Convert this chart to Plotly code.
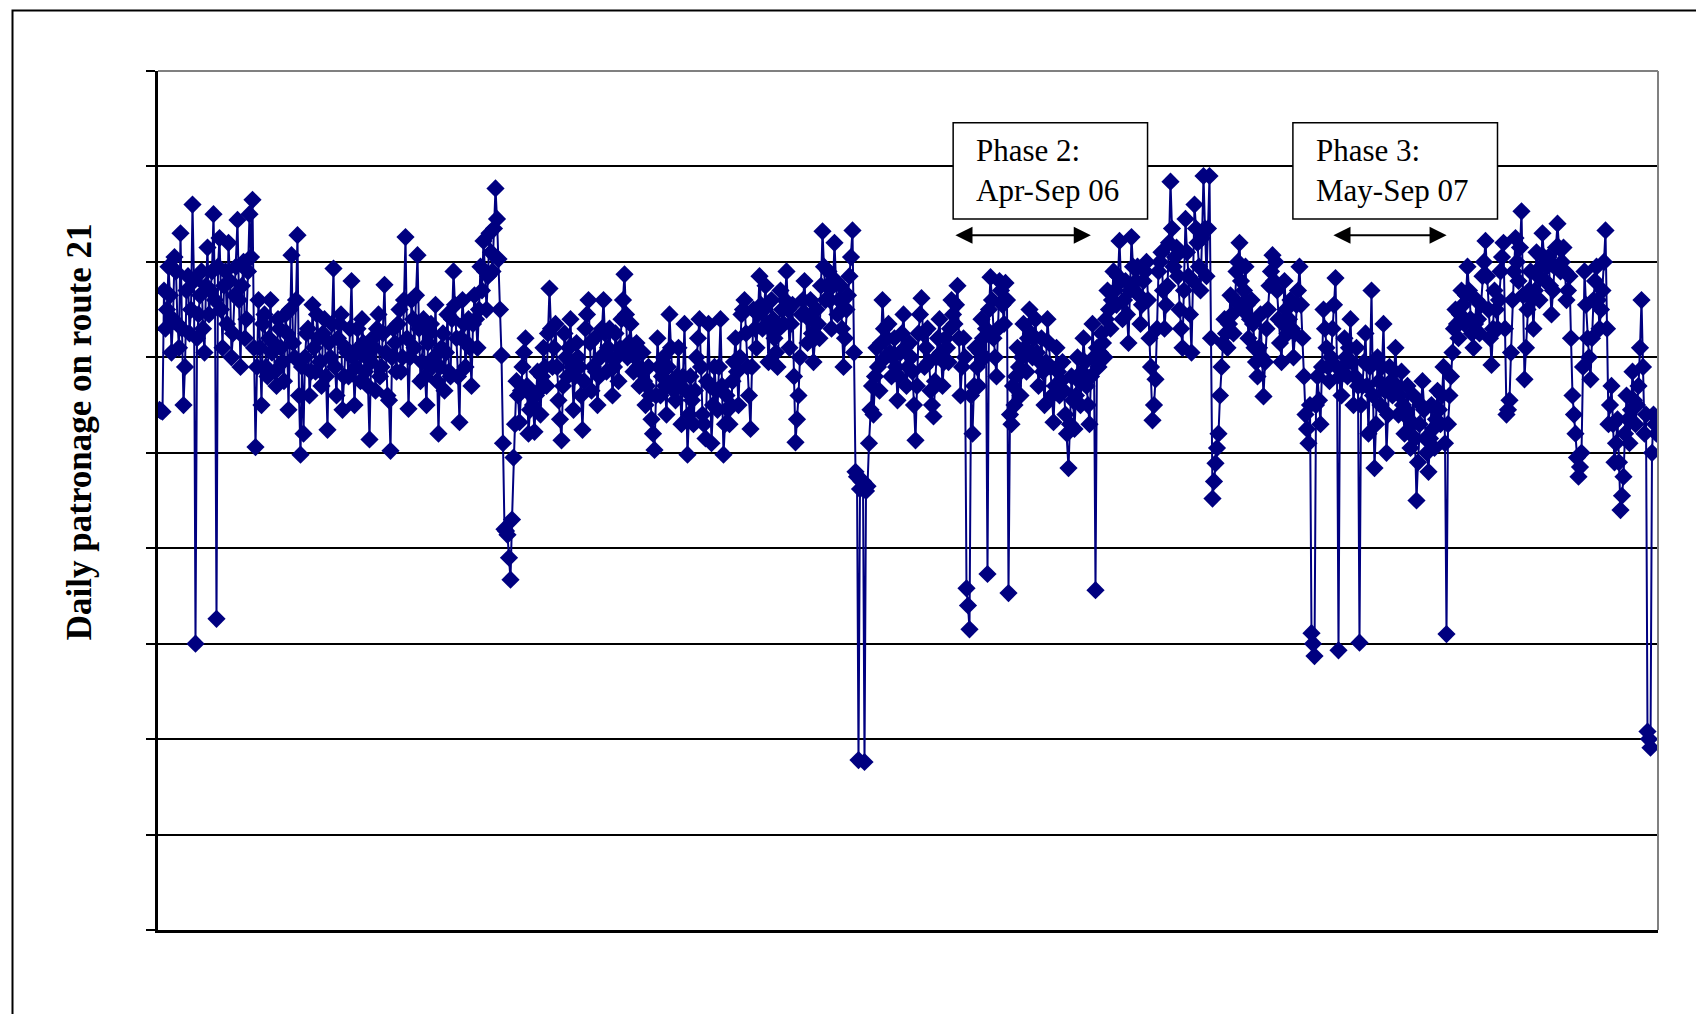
import plotly.graph_objects as go

# Daily patronage on route 21 (y axis 0-9000, tick labels not shown)
# Main daily readings, grouped by stretch of the record
seg01 = [5450, 5430, 6300, 6950, 6050, 7050, 6350, 7300, 5500, 6700, 6250, 7600, 3000, 6450, 6900, 6050,
         7150, 6700, 7500, 3260, 7250, 6100, 6900, 7200, 6000, 6650, 7440, 5900, 7000, 6400, 7500, 7650, 5060]
seg02 = [6600, 5500, 6450, 5800, 6600, 6150, 5700, 6300, 5950, 6450, 5450, 7070, 6000, 7280, 4980, 5200,
         6250, 5600, 6550, 5850, 6200, 5700, 6400, 5240, 6000, 6930, 5600, 6350, 5450, 6100, 5800, 6800,
         5500, 6300, 5750, 6150]
seg03 = [6000, 5140, 6200, 5650, 6450, 5900, 6760, 5600, 5020, 6300, 5850, 6500, 6000, 7260, 5460, 6600,
         6100, 7070, 5750, 6400, 5500, 6250, 5900, 6550, 5200, 6100, 5650, 6450, 5800, 6900, 6200, 5320,
         6600, 5900]
seg04 = [6400, 5700, 6650, 6100, 6950, 7220, 6500, 7300, 6900, 7770, 7030, 6020, 4200, 4140, 3670, 4950, 5750]
seg05 = [5320, 5900, 6200, 5200, 5600, 5220, 5850, 5400, 6100, 5700, 6720, 5900, 6350, 5550, 5130, 6250,
         5800, 6400, 5450, 6150, 5900, 5240, 6300, 6600, 5650, 6200, 5500, 6000, 6600, 5850, 6300]
seg06 = [5600, 6250, 5750, 6400, 6870, 6000, 6350, 5850, 6150, 5700, 6050, 5500, 5900, 5350, 5030, 6200,
         5600, 6000, 5400, 6450, 5750, 5550, 6100, 5300, 6350, 4980, 5800, 5300, 6000, 6400, 5400, 5150,
         6350, 5100, 5900, 5450, 6400, 4980, 5600, 5300]
seg07 = [5750, 6200, 5500, 6450, 6600, 5900, 5250, 6500, 6100, 6850, 6300, 6750, 5950, 6600, 6200]
seg08 = [5900, 6700, 6350, 6900, 6100, 6550, 5110, 5600, 6450, 6800, 6150, 6600, 5950, 6500, 6200, 7320,
         6600, 6900, 6300, 7200, 6450, 6750, 5900, 6500, 6850, 7330, 4800, 1780, 4700, 1760, 4650]
seg09 = [5450, 5400, 6100, 5650, 6600, 6000, 6350, 5800, 6200, 5550, 6050, 6450, 5700, 6150, 5850, 5130,
         6250, 6620, 5900, 6300, 5650, 5380, 6000, 6400, 5700, 6200, 5950, 6600, 6350, 6750, 5600, 6200]
seg10 = [3580, 3150, 5200, 6100, 5700, 6400, 6000, 3730, 6840, 6200, 5800, 6800, 6550, 6780, 3530, 5300,
         5500, 6100, 5600, 6350, 5850, 6500]
seg11 = [6000, 6400, 5700, 6200, 5500, 6400, 5900, 5320, 6100, 5600, 5950, 5400, 4840, 5800, 5250, 6000,
         5500, 6200, 5700, 5300, 6350, 3560, 5900, 6250, 6000]
seg12 = [6700, 6300, 6900, 6550, 7220, 6400, 6800, 6150, 7260, 6700, 6950, 6350, 6800, 7000, 6200, 5340,
         5770, 6900, 7100, 6300, 6750, 7840, 6950, 7150, 6500, 6100, 7450, 6850, 6050, 7600, 7200, 6700,
         7900, 6850, 7900, 4520, 4890, 5200]
seg13 = [5900, 6400, 6100, 6650, 6250, 6900, 7200, 6500, 6950, 6200, 6600, 6100, 5800, 6450, 5590, 6300,
         6750, 7070, 7000, 6400, 5950, 6800, 6250, 6600, 6000, 6550, 6950, 6200, 5400, 5100]
seg14 = [3110, 2870, 5800, 5300, 6500, 6100, 5750, 6300, 6830, 2930, 5600, 6200, 5800, 6400, 5500, 6100,
         3010, 5700, 6250, 5200, 6700, 4840, 6000, 5500, 6350, 5000, 5900, 5600, 6100]
seg15 = [5400, 5850, 5200, 5700, 5050, 5600, 4500, 5300, 5750, 5150, 4800, 5500, 5050, 5650, 5300, 5900,
         3100, 5600]
seg16 = [6050, 6500, 6200, 6700, 6350, 6950, 6400, 6100, 6600, 6250, 6850, 7220, 6500, 5920, 6700, 6300,
         6900, 7200, 5400, 5550, 6600, 7250, 6800, 7530, 5770, 6500, 6900, 6300, 7100, 6600, 7300, 6800,
         7050, 6450, 6950, 7400, 6900, 7150, 6600, 6850]
seg17 = [5600, 5200, 4750, 5000, 6900, 6200, 5770, 6600, 6950, 6300, 6700, 7330, 5300, 5700, 4900, 5350,
         4400, 4750, 5600, 5100, 5850, 5300, 5700, 6600, 5200, 2080, 1910, 5400, 5200]

# In-between daily readings (each falls between two consecutive readings above)
mid01 = [5440, 6700, 6500, 6650, 6400, 6900, 6100, 6300, 5900, 6850, 6500, 6800, 6200, 6650, 6300, 6750,
         6450, 6900, 6600, 6950, 6500, 6750, 6350, 6800, 6250, 6950, 6600, 6750, 6200, 6900, 7050, 6100, 5900]
mid02 = [6100, 6350, 5900, 6200, 6050, 5850, 6400, 6100, 5750, 6250, 6500, 6150, 6600, 5600, 5900, 6000,
         6300, 5850, 6100, 6450, 5950, 6250, 5800, 6150, 6350, 5900, 6200, 6450, 5800, 6050, 6300, 6000,
         5900, 6100, 6400, 5850]
mid03 = [5700, 5950, 6100, 6300, 5800, 6250, 6050, 5550, 6000, 6150, 6350, 5850, 6600, 6200, 6000, 6400,
         6650, 6300, 5950, 5800, 6150, 6350, 6000, 5750, 5900, 6250, 6050, 5850, 6400, 6550, 5800, 6200,
         6350, 6150]
mid04 = [6100, 6350, 6400, 6500, 6700, 6900, 6850, 7100, 7350, 7450, 6500, 5100, 4180, 3900, 4300, 5300, 5600]
mid05 = [5650, 6050, 5700, 5450, 5500, 5600, 5650, 5800, 5900, 6250, 6300, 6100, 5900, 5350, 5700, 6000,
         6100, 5900, 5800, 6000, 5600, 5750, 6450, 6150, 5900, 5850, 5800, 6300, 6250, 6100, 6000]
mid06 = [5900, 6000, 6100, 6600, 6450, 6150, 6100, 6000, 5900, 5850, 5750, 5700, 5600, 5200, 5600, 5900,
         5800, 5700, 5900, 6100, 5650, 5800, 5700, 5800, 5650, 5400, 5550, 5650, 6200, 5900, 5300, 5750,
         5700, 5500, 5650, 5900, 5700, 5300, 5450, 5500]
mid07 = [5950, 5850, 6000, 6500, 6250, 5600, 5900, 6300, 6450, 6550, 6500, 6350, 6300, 6400, 6050]
mid08 = [6300, 6500, 6600, 6500, 6350, 5800, 5350, 6000, 6600, 6450, 6400, 6250, 6200, 6350, 6750, 6950,
         6750, 6600, 6750, 6800, 6600, 6300, 6200, 6650, 7050, 6050, 4750, 4620, 4700, 4600, 5100]
mid09 = [5700, 5800, 5900, 6150, 6300, 6200, 6050, 6000, 5900, 5800, 6250, 6100, 5900, 6000, 5500, 5700,
         6450, 6250, 6100, 5950, 5500, 5750, 6200, 6050, 5950, 6100, 6300, 6450, 6550, 6200, 5900, 6000]
mid10 = [3400, 5600, 5700, 5900, 6050, 6200, 6300, 6500, 6600, 6000, 6300, 6700, 6350, 6600, 5400, 5700,
         5800, 5900, 6000, 6100, 6200, 6250]
mid11 = [6200, 6050, 5950, 5850, 5950, 6150, 5600, 5700, 5850, 5750, 5650, 5200, 5300, 5550, 5600, 5750,
         5850, 5950, 5500, 5800, 6000, 6100, 6050, 6150, 6400]
mid12 = [6500, 6600, 6700, 6850, 6800, 6600, 6450, 6700, 6950, 6800, 6650, 6550, 6900, 6600, 5900, 5500,
         6300, 7000, 6700, 6550, 7200, 7350, 7050, 6850, 6300, 6700, 7100, 6450, 6800, 7350, 6950, 7250,
         7350, 7350, 6200, 4700, 5050, 5600]
mid13 = [6150, 6250, 6350, 6450, 6600, 7000, 6800, 6700, 6550, 6400, 6350, 5950, 6100, 6000, 5950, 6500,
         6900, 6800, 6700, 6150, 6350, 6500, 6400, 6300, 6250, 6700, 6550, 5800, 5250, 5500]
mid14 = [3000, 5500, 5550, 5900, 6300, 5900, 6000, 6550, 5900, 5800, 5900, 6000, 6100, 5950, 5800, 5700,
         5500, 5950, 5700, 5900, 5600, 5300, 5750, 5900, 5650, 5400, 5750, 5850, 5700]
mid15 = [5600, 5500, 5450, 5350, 5300, 5150, 4900, 5500, 5450, 5000, 5150, 5250, 5350, 5450, 5600, 5100,
         5300, 5800]
mid16 = [6300, 6350, 6450, 6550, 6650, 6700, 6250, 6350, 6400, 6550, 7000, 6850, 6200, 6300, 6500, 6600,
         7050, 6300, 5450, 6050, 6900, 7000, 7150, 6650, 6100, 6700, 6600, 6700, 6850, 6950, 7050, 6950,
         6750, 6700, 7150, 7150, 7000, 6900, 6700, 6200]
mid17 = [5400, 4950, 4850, 5900, 6550, 6000, 6200, 6800, 6600, 6500, 7000, 6300, 5500, 5300, 5100, 4900,
         4550, 5200, 5350, 5450, 5550, 5500, 6100, 5900, 5400, 2000, 5000, 5300]

main_segs = [seg01, seg02, seg03, seg04, seg05, seg06, seg07, seg08, seg09, seg10, seg11, seg12, seg13,
             seg14, seg15, seg16, seg17]
mid_segs = [mid01, mid02, mid03, mid04, mid05, mid06, mid07, mid08, mid09, mid10, mid11, mid12, mid13,
            mid14, mid15, mid16, mid17]

patronage = [v for s in main_segs for v in s]
between = [v for s in mid_segs for v in s]
assert len(between) == len(patronage) - 1, (len(patronage), len(between))

# interleave the two sets of readings in time order
day_pos, day_val = [], []
for i, v in enumerate(patronage):
    day_pos.append(i)
    day_val.append(v)
    if i < len(between):
        day_pos.append(i + 0.5)
        day_val.append(between[i])

y_title = "Daily patronage on route 21"
phase_labels = ["Phase 2:<br>Apr-Sep 06", "Phase 3:<br>May-Sep 07"]

NAVY = "#000080"
SERIF = "Liberation Serif, Times New Roman, serif"

fig = go.Figure()
fig.add_trace(go.Scatter(
    x=day_pos, y=day_val, mode="lines+markers",
    line=dict(color=NAVY, width=2),
    marker=dict(symbol="diamond", size=14, color=NAVY, line=dict(width=0)),
    showlegend=False, hoverinfo="skip"))

n = len(patronage)
fig.update_xaxes(range=[-0.5, n - 0.5], showgrid=False, showticklabels=False, ticks="",
                 showline=True, linecolor="black", linewidth=3, zeroline=False)
fig.update_yaxes(range=[0, 9000], tick0=0, dtick=1000, showgrid=True, gridcolor="black", gridwidth=1.5,
                 ticks="outside", ticklen=9, tickwidth=2, tickcolor="black", showticklabels=False,
                 showline=True, linecolor="black", linewidth=3, zeroline=False)

shapes = [
    # gray top and right border of plot area
    dict(type="line", xref="paper", yref="paper", x0=0, x1=1, y0=1, y1=1,
         line=dict(color="#808080", width=2)),
    dict(type="line", xref="paper", yref="paper", x0=1, x1=1, y0=0, y1=1,
         line=dict(color="#808080", width=2)),
    # outer chart frame (runs off the page to the right and bottom)
    dict(type="rect", xref="paper", yref="paper", x0=-0.097, x1=1.3, y0=-0.4, y1=1.0705,
         line=dict(color="black", width=2)),
    # phase boxes
    dict(type="rect", xref="paper", yref="paper", x0=0.5301, x1=0.6597, y0=0.8277, y1=0.9399,
         line=dict(color="black", width=1.5), fillcolor="white"),
    dict(type="rect", xref="paper", yref="paper", x0=0.7566, x1=0.8930, y0=0.8277, y1=0.9399,
         line=dict(color="black", width=1.5), fillcolor="white"),
]

annotations = [
    dict(text=y_title, xref="paper", yref="paper", x=-0.0527, y=0.5806, textangle=-90,
         showarrow=False, xanchor="center", yanchor="middle",
         font=dict(family=SERIF, size=35, color="black", weight="bold")),
    dict(text=phase_labels[0], xref="paper", yref="paper", x=0.5441, y=0.8838, showarrow=False,
         xanchor="left", yanchor="middle", align="left",
         font=dict(family=SERIF, size=31, color="black")),
    dict(text=phase_labels[1], xref="paper", yref="paper", x=0.7707, y=0.8838, showarrow=False,
         xanchor="left", yanchor="middle", align="left",
         font=dict(family=SERIF, size=31, color="black")),
]
for xa, xb in [(0.5306, 0.6219), (0.7826, 0.8591)]:
    annotations.append(dict(
        text="", xref="x domain", yref="y domain", axref="x domain", ayref="y domain",
        x=xb, y=0.8088, ax=xa, ay=0.8088, showarrow=True, arrowhead=2, startarrowhead=2,
        arrowside="end+start", arrowsize=1.9, startarrowsize=1.9, arrowwidth=1.8, arrowcolor="black",
        standoff=0, startstandoff=0))

# page body adds an 8 px offset, so margins are shifted by that amount
fig.update_layout(
    width=1704, height=1014,
    margin=dict(l=150, r=54, t=63, b=92),
    paper_bgcolor="white", plot_bgcolor="white",
    shapes=shapes, annotations=annotations,
)

fig.write_html("out.html")
